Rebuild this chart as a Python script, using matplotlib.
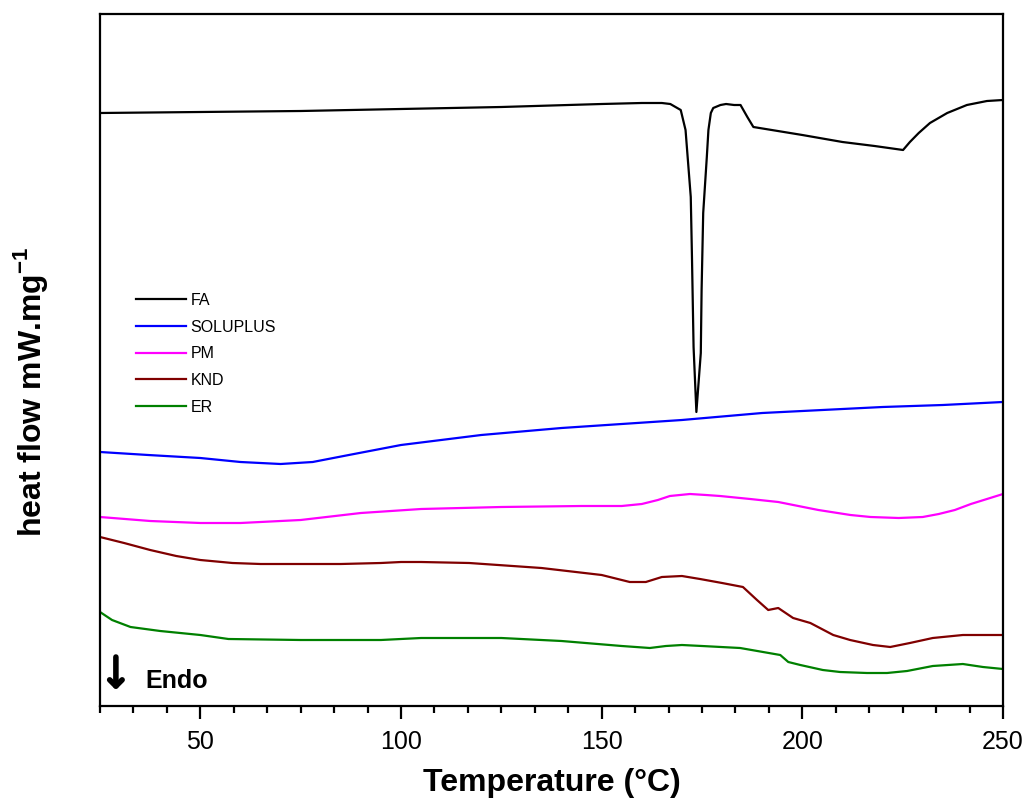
import matplotlib
matplotlib.use("Agg")
import matplotlib.pyplot as plt
from matplotlib.ticker import MultipleLocator

plt.rcParams['font.family'] = ['Liberation Sans', 'DejaVu Sans']
plt.rcParams['mathtext.fontset'] = 'custom'
plt.rcParams['mathtext.rm'] = 'Liberation Sans'
plt.rcParams['mathtext.bf'] = 'Liberation Sans:bold'

# ---- data (heat flow, arbitrary offset units) ----
fa_T = [25, 50, 75, 100, 125, 150, 160, 165, 167.1, 169.7, 170.9, 172.2, 172.5, 172.9, 173.6,
        174.7, 174.9, 175.3, 176.2, 176.6, 177.2, 177.8, 179.6, 181, 183, 184.6, 186.3, 187.8,
        200, 210, 218, 225.1, 226.8, 229, 231.8, 236.1, 241, 246, 250]
fa_hf = [5.93, 5.94, 5.95, 5.97, 5.99, 6.02, 6.03, 6.03, 6.02, 5.96, 5.76, 5.09, 4.49, 3.59, 2.94,
         3.53, 4.16, 4.93, 5.49, 5.76, 5.93, 5.98, 6.01, 6.02, 6.01, 6.01, 5.89, 5.79,
         5.71, 5.64, 5.60, 5.56, 5.64, 5.73, 5.83, 5.93, 6.01, 6.05, 6.06]

sol_T = [25, 37, 50, 60, 70, 78, 87, 100, 110, 120, 140, 155, 170, 190, 205, 220, 235, 250]
sol_hf = [2.54, 2.51, 2.48, 2.44, 2.42, 2.44, 2.51, 2.61, 2.66, 2.71, 2.78, 2.82, 2.86, 2.93,
          2.96, 2.99, 3.01, 3.04]

pm_T = [25, 37.5, 50, 60, 75, 90, 105, 125, 145, 155, 160, 164, 167, 172, 176, 179.5, 187, 194,
        204, 212, 217, 224, 230, 234, 238, 242, 246, 250]
pm_hf = [1.89, 1.85, 1.83, 1.83, 1.86, 1.93, 1.97, 1.99, 2.00, 2.00, 2.02, 2.06, 2.10, 2.12, 2.11,
         2.10, 2.07, 2.04, 1.96, 1.91, 1.89, 1.88, 1.89, 1.92, 1.96, 2.02, 2.07, 2.12]

knd_T = [25, 31, 37.5, 44, 50, 58, 65, 85, 95, 100, 105, 117, 135, 150, 157, 161, 165, 170, 174.5,
         180, 185.2, 188.7, 191.5, 194, 197.7, 202, 207.7, 211.9, 217.6, 221.9, 226.8, 232.5, 240,
         249.3, 250]
knd_hf = [1.69, 1.63, 1.56, 1.50, 1.46, 1.43, 1.42, 1.42, 1.43, 1.44, 1.44, 1.43, 1.38, 1.31, 1.24,
          1.24, 1.29, 1.30, 1.27, 1.23, 1.19, 1.06, 0.96, 0.98, 0.88, 0.83, 0.71, 0.66, 0.61, 0.59,
          0.63, 0.68, 0.71, 0.71, 0.71]

er_T = [25, 28, 32.6, 40, 50, 57, 75, 95, 105, 125, 140, 155, 162, 166, 170, 175, 184.5, 194.5,
        196.5, 199.5, 205.1, 209.4, 216.1, 221.1, 226.1, 232.5, 240, 245, 250]
er_hf = [0.94, 0.86, 0.79, 0.75, 0.71, 0.67, 0.66, 0.66, 0.68, 0.68, 0.65, 0.60, 0.58, 0.60, 0.61,
         0.60, 0.58, 0.51, 0.44, 0.41, 0.36, 0.34, 0.33, 0.33, 0.35, 0.40, 0.42, 0.39, 0.37]

series = [
    ("FA", fa_T, fa_hf, "#000000"),
    ("SOLUPLUS", sol_T, sol_hf, "#0000FF"),
    ("PM", pm_T, pm_hf, "#FF00FF"),
    ("KND", knd_T, knd_hf, "#800000"),
    ("ER", er_T, er_hf, "#008000"),
]

x_ticks = [50, 100, 150, 200, 250]

fig = plt.figure(figsize=(10.33, 8.05), dpi=100)
ax = fig.add_axes([100 / 1033, 1 - 706 / 805, 903 / 1033, 692 / 805])

for name, T, hf, c in series:
    ax.plot(T, hf, color=c, lw=1.6, label=name)

ax.set_xlim(25, 250)
ax.set_ylim(0, 6.92)
ax.set_xticks(x_ticks)
ax.xaxis.set_minor_locator(MultipleLocator(50 / 6))
ax.set_yticks([])
ax.tick_params(axis='x', which='major', direction='out', length=9, width=1.6,
               labelsize=18, pad=8)
ax.tick_params(axis='x', which='minor', direction='out', length=5, width=1.6)
for s in ax.spines.values():
    s.set_linewidth(1.6)

ax.set_xlabel("Temperature (°C)", fontsize=23, fontweight='bold', labelpad=10)
ax.set_ylabel("heat flow mW.mg$^{\\mathbf{-1}}$", fontsize=23, fontweight='bold')
ax.yaxis.set_label_coords(-0.0554, 0.454)

leg = ax.legend(loc='upper left', bbox_to_anchor=(0.0399, 0.597), frameon=False,
                fontsize=11.5, handlelength=3.1, handletextpad=0.3, labelspacing=0.73,
                borderpad=0, borderaxespad=0)

ax.annotate("", xy=(28.96, 0.16), xytext=(28.96, 0.49),
            arrowprops=dict(arrowstyle="->, head_width=0.45, head_length=0.45",
                            lw=4, color='black', shrinkA=0, shrinkB=0))
ax.text(36.3, 0.18, "Endo", fontsize=18, fontweight='bold', ha='left', va='baseline')

fig.savefig("out.png", dpi=100)
